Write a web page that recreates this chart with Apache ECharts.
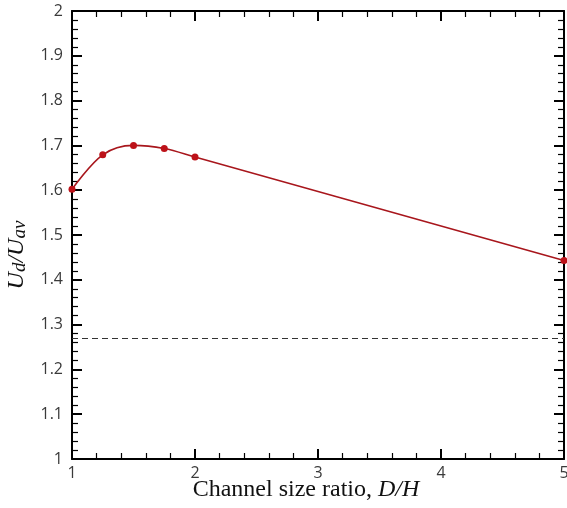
<!DOCTYPE html>
<html>
<head>
<meta charset="utf-8">
<script src="https://cdn.jsdelivr.net/npm/echarts@6/dist/echarts.min.js"></script>
<style>
  html, body { margin: 0; padding: 0; background: #fff; }
  #chart { width: 567px; height: 508px; }
</style>
</head>
<body>
<div id="chart"></div>
<script>
// Channel size ratio D/H and the corresponding velocity ratio Ud/Uav
var ratios = [1, 1.25, 1.5, 1.75, 2, 5];
var velocityRatio = [1.602, 1.679, 1.700, 1.693, 1.674, 1.443];
// Reference level drawn as a dashed horizontal line
var referenceLevel = [1.267];

var xRange = [1, 5];
var yRange = [1, 2];

var chart = echarts.init(document.getElementById('chart'), null, { renderer: 'canvas' });

var tickFont = { fontFamily: 'Open Sans', fontSize: 16, color: '#3a3a3a' };

function frameAxis(extra) {
  return Object.assign({
    axisLine: { show: true, onZero: false, lineStyle: { color: '#000', width: 2 } },
    axisTick: { show: true, inside: true, length: 10, lineStyle: { color: '#000', width: 2 } },
    minorTick: { show: true, splitNumber: 5, length: 6, lineStyle: { color: '#000', width: 1.2 } },
    splitLine: { show: false },
    minorSplitLine: { show: false }
  }, extra);
}

chart.setOption({
  animation: false,
  backgroundColor: '#fff',
  grid: { left: 72, right: 3, top: 11, bottom: 49, containLabel: false, outerBoundsMode: 'none' },
  xAxis: [
    frameAxis({
      type: 'value', position: 'bottom', min: xRange[0], max: xRange[1], interval: 1,
      axisLabel: Object.assign({ margin: 6 }, tickFont),
      name: 'Channel size ratio, {it|D/H}',
      nameLocation: 'middle',
      nameGap: 19,
      nameMoveOverlap: false,
      nameTextStyle: {
        fontFamily: 'Liberation Serif', fontSize: 24, color: '#111',
        padding: [0, 24, 0, 0],
        rich: { it: { fontFamily: 'Liberation Serif', fontSize: 24, fontStyle: 'italic', color: '#111' } }
      }
    }),
    frameAxis({
      type: 'value', position: 'top', min: xRange[0], max: xRange[1], interval: 1,
      axisLabel: { show: false }
    })
  ],
  yAxis: [
    frameAxis({
      type: 'value', position: 'left', min: yRange[0], max: yRange[1], interval: 0.1,
      axisLabel: Object.assign({ margin: 9 }, tickFont),
      name: '{i|U}{s|d}{i|/U}{s|av}',
      nameLocation: 'middle',
      nameGap: 43,
      nameTextStyle: {
        padding: [0, 40, 0, 0],
        rich: {
          i: { fontFamily: 'Liberation Serif', fontStyle: 'italic', fontSize: 24, color: '#111', lineHeight: 26, verticalAlign: 'bottom' },
          s: { fontFamily: 'Liberation Serif', fontStyle: 'italic', fontSize: 19, color: '#111', lineHeight: 22, verticalAlign: 'bottom' }
        }
      }
    }),
    frameAxis({
      type: 'value', position: 'right', min: yRange[0], max: yRange[1], interval: 0.1,
      axisLabel: { show: false }
    })
  ],
  series: [
    {
      type: 'line',
      xAxisIndex: 0,
      yAxisIndex: 0,
      data: ratios.map(function (r, i) { return [r, velocityRatio[i]]; }),
      smooth: 0.35,
      symbol: 'circle',
      symbolSize: 7,
      clip: false,
      lineStyle: { color: '#a8161c', width: 1.6 },
      itemStyle: { color: '#bd1219' },
      markLine: {
        silent: true,
        symbol: ['none', 'none'],
        label: { show: false },
        lineStyle: { color: '#333', width: 1.2, type: [6, 4] },
        data: referenceLevel.map(function (v) { return { yAxis: v }; })
      }
    }
  ]
});
</script>
</body>
</html>
